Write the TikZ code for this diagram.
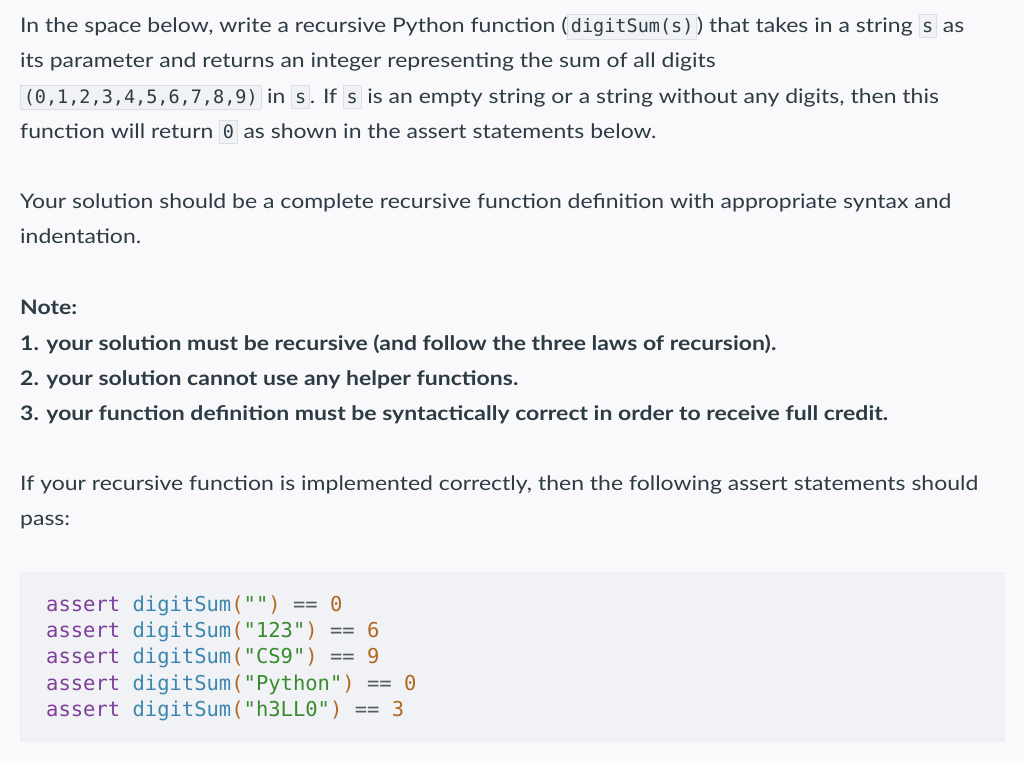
\documentclass[tikz,border=0pt]{standalone}
\usepackage{fontspec}
\setmainfont{Lato}[FakeStretch=1.15]
\setmonofont{DejaVu Sans Mono}
\definecolor{bg}{HTML}{F9F9FB}
\definecolor{txt}{HTML}{2D3B45}
\definecolor{cbg}{HTML}{F1F2F5}
\definecolor{cbd}{HTML}{DCDEE3}
\definecolor{kw}{HTML}{7F3F9A}
\definecolor{fn}{HTML}{3C87AE}
\definecolor{st}{HTML}{3A8A2E}
\definecolor{nm}{HTML}{B06A1F}
\definecolor{op}{HTML}{555B60}
\newcommand{\ic}[1]{{\setlength{\fboxsep}{3pt}\setlength{\fboxrule}{0.6pt}\fcolorbox{cbd}{cbg}{\ttfamily\fontsize{18.5}{18}\selectfont\vphantom{(}#1}}}
\tikzset{ln/.style={anchor=base west,inner sep=0,text=txt,font=\fontsize{20}{24}\selectfont},
 cl/.style={anchor=base west,inner sep=0,font=\ttfamily\fontsize{20.5}{24}\selectfont}}
\begin{document}
\begin{tikzpicture}[x=1pt,y=-1pt]
\fill[bg] (0,0) rectangle (1024,761);
\useasboundingbox (0,0) rectangle (1024,761);
\node[ln] (l1) at (20,32) {In the space below, write a recursive Python function (\ic{digitSum(s)}) that takes in a string \ic{s} as};
\node[ln] (l2) at (20,67) {its parameter and returns an integer representing the sum of all digits};
\node[ln] (l3) at (20,103) {\ic{(0,1,2,3,4,5,6,7,8,9)} in \ic{s}. If \ic{s} is an empty string or a string without any digits, then this};
\node[ln] (l4) at (20,138) {function will return \ic{0} as shown in the assert statements below.};
\node[ln] (l5) at (20,208) {Your solution should be a complete recursive function definition with appropriate syntax and};
\node[ln] (l6) at (20,243) {indentation.};
\node[ln,font=\fontsize{20}{24}\selectfont\bfseries] (l7) at (20,314) {Note:};
\node[ln,font=\fontsize{20}{24}\selectfont\bfseries] (l8) at (20,350) {1. your solution must be recursive (and follow the three laws of recursion).};
\node[ln,font=\fontsize{20}{24}\selectfont\bfseries] (l9) at (20,385) {2. your solution cannot use any helper functions.};
\node[ln,font=\fontsize{20}{24}\selectfont\bfseries] (l10) at (20,420) {3. your function definition must be syntactically correct in order to receive full credit.};
\node[ln] (l11) at (20,490) {If your recursive function is implemented correctly, then the following assert statements should};
\node[ln] (l12) at (20,525) {pass:};
\draw[cbd,fill=cbg,rounded corners=2pt] (20.5,572.5) rectangle (1004,741);
\node[cl] (c1) at (46,611) {\textcolor{kw}{assert} \textcolor{fn}{digitSum}\textcolor{nm}{(}\textcolor{st}{""}\textcolor{nm}{)} \textcolor{op}{==} \textcolor{nm}{0}};
\node[cl] (c2) at (46,637) {\textcolor{kw}{assert} \textcolor{fn}{digitSum}\textcolor{nm}{(}\textcolor{st}{"123"}\textcolor{nm}{)} \textcolor{op}{==} \textcolor{nm}{6}};
\node[cl] (c3) at (46,663) {\textcolor{kw}{assert} \textcolor{fn}{digitSum}\textcolor{nm}{(}\textcolor{st}{"CS9"}\textcolor{nm}{)} \textcolor{op}{==} \textcolor{nm}{9}};
\node[cl] (c4) at (46,690) {\textcolor{kw}{assert} \textcolor{fn}{digitSum}\textcolor{nm}{(}\textcolor{st}{"Python"}\textcolor{nm}{)} \textcolor{op}{==} \textcolor{nm}{0}};
\node[cl] (c5) at (46,716) {\textcolor{kw}{assert} \textcolor{fn}{digitSum}\textcolor{nm}{(}\textcolor{st}{"h3LL0"}\textcolor{nm}{)} \textcolor{op}{==} \textcolor{nm}{3}};
\end{tikzpicture}
\end{document}
